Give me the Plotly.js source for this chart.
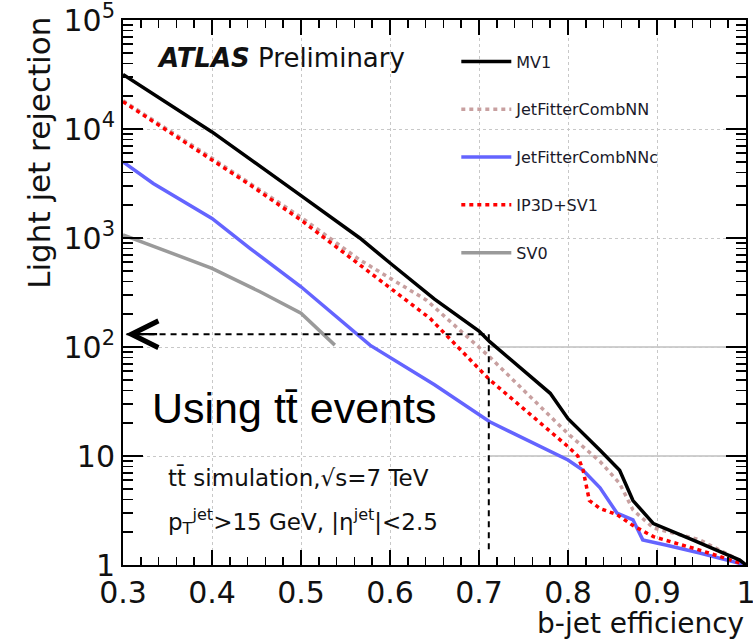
<!DOCTYPE html>
<html>
<head>
<meta charset="utf-8">
<script src="https://cdn.plot.ly/plotly-3.0.1.min.js"></script>
<style>html,body{margin:0;padding:0;background:#fff;}#chart{width:753px;height:640px;}</style>
</head>
<body>
<div id="chart"></div>
<script>
// ---- data ----
const seriesNames = ["MV1", "JetFitterCombNN", "JetFitterCombNNc", "IP3D+SV1", "SV0"];

const mv1X = [0.30, 0.40, 0.50, 0.566, 0.60, 0.65, 0.70, 0.712, 0.78, 0.80, 0.836, 0.858, 0.873, 0.896, 0.94, 0.993, 1.0];
const mv1Y = [31600, 9400, 2450, 1000, 590, 275, 140, 112, 37.6, 22, 11.3, 7.4, 3.9, 2.4, 1.7, 1.11, 1.0];

const nnX = [0.30, 0.40, 0.50, 0.566, 0.641, 0.712, 0.80, 0.836, 0.858, 0.873, 0.896, 0.948, 0.985, 1.0];
const nnY = [18200, 5400, 1550, 630, 269, 81, 16, 8.9, 5.6, 3.2, 2.19, 1.7, 1.19, 1.0];

const nncX = [0.30, 0.334, 0.40, 0.443, 0.50, 0.555, 0.5775, 0.65, 0.712, 0.80, 0.817, 0.836, 0.855, 0.873, 0.884, 0.911, 0.948, 1.0];
const nncY = [5000, 3160, 1510, 800, 357, 148, 104, 45, 20.6, 9.2, 7.4, 5.1, 3.0, 2.6, 1.7, 1.52, 1.29, 1.0];

const ipX = [0.30, 0.40, 0.443, 0.50, 0.566, 0.645, 0.712, 0.757, 0.80, 0.811, 0.817, 0.824, 0.836, 0.855, 0.873, 0.896, 0.948, 1.0];
const ipY = [17800, 5200, 3060, 1460, 565, 183, 50, 24.5, 12.2, 10, 7.4, 3.9, 3.3, 2.9, 2.3, 1.82, 1.37, 1.0];

const sv0X = [0.30, 0.35, 0.40, 0.454, 0.50, 0.538];
const sv0Y = [1070, 748, 527, 321, 204, 104];

const xTickVals = [0.3, 0.4, 0.5, 0.6, 0.7, 0.8, 0.9, 1.0];
const xTickText = ["0.3", "0.4", "0.5", "0.6", "0.7", "0.8", "0.9", "1"];
const yTickVals = [1, 10, 100, 1000, 10000, 100000];
const yTickText = ["1", "10", "10<sup>2</sup>", "10<sup>3</sup>", "10<sup>4</sup>", "10<sup>5</sup>"];

// working point marked by the dashed lines
const wpEff = 0.711;
const wpRej = 131;
const wpLow = 1.37;

const FONT = "DejaVu Sans, Liberation Sans, Arial, sans-serif";
const FONT2 = "Liberation Sans, Arial, Helvetica, sans-serif";

const mk = (x, y, name, color, dash, g, rank) => ({
  x: x, y: y, name: name, type: "scatter", mode: "lines",
  line: {color: color, width: 3.5, dash: dash},
  legendgroup: g, legendrank: rank, showlegend: true
});

const traces = [
  mk(sv0X, sv0Y, seriesNames[4], "#9a9a9a", "solid", "g5", 5),
  mk(nncX, nncY, seriesNames[2], "#6464ff", "solid", "g3", 3),
  mk(nnX, nnY, seriesNames[1], "#c8a0a0", "4px,4px", "g2", 2),
  mk(ipX, ipY, seriesNames[3], "#ff0000", "4px,4px", "g4", 4),
  mk(mv1X, mv1Y, seriesNames[0], "#000000", "solid", "g1", 1)
];

const layout = {
  width: 753, height: 640,
  margin: {l: 123, r: 7, t: 20, b: 75},
  paper_bgcolor: "#fff", plot_bgcolor: "#fff",
  font: {family: FONT, color: "#000"},
  showlegend: true,
  legend: {
    x: 0.535, y: 0.955, xanchor: "left", yanchor: "top",
    bgcolor: "rgba(0,0,0,0)", borderwidth: 0,
    font: {family: FONT, size: 16, color: "#1a1a2a"},
    traceorder: "grouped", tracegroupgap: 24, itemwidth: 50
  },
  xaxis: {
    range: [0.3, 1.0], tickvals: xTickVals, ticktext: xTickText,
    ticks: "inside", ticklen: 15, tickwidth: 1.5, tickcolor: "#000",
    minor: {dtick: 0.02, ticks: "inside", ticklen: 8, tickcolor: "#000", tickwidth: 1.5, showgrid: false},
    showline: true, linecolor: "#000", linewidth: 2, mirror: "allticks",
    showgrid: true, gridcolor: "#c8c8c8", griddash: "dot", gridwidth: 1,
    tickfont: {family: FONT, size: 30, color: "#111"},
    ticklabeloverflow: "allow",
    zeroline: false
  },
  yaxis: {
    type: "log", range: [0, 5], tickvals: yTickVals, ticktext: yTickText,
    ticks: "inside", ticklen: 20, tickwidth: 1.5, tickcolor: "#000",
    minor: {dtick: "D1", ticks: "inside", ticklen: 10, tickcolor: "#000", tickwidth: 1.5, showgrid: false},
    showline: true, linecolor: "#000", linewidth: 2, mirror: "allticks",
    showgrid: true, gridcolor: "#c8c8c8", griddash: "dot", gridwidth: 1,
    tickfont: {family: FONT, size: 30, color: "#111"},
    ticklabeloverflow: "allow",
    zeroline: false
  },
  shapes: [
    {type: "line", xref: "x", yref: "y", x0: wpEff, x1: 1.0, y0: 100, y1: 100, layer: "below", line: {color: "#cfcfcf", width: 2}},
    {type: "line", xref: "x", yref: "y", x0: wpEff, x1: 1.0, y0: 10, y1: 10, layer: "below", line: {color: "#cfcfcf", width: 2}},
    {type: "line", xref: "x", yref: "y", x0: 0.304, x1: wpEff, y0: wpRej, y1: wpRej, line: {color: "#000", width: 2, dash: "6px,5px"}},
    {type: "line", xref: "x", yref: "y", x0: wpEff, x1: wpEff, y0: wpRej, y1: wpLow, line: {color: "#000", width: 2, dash: "6px,5px"}}
  ],
  annotations: [
    {x: 0.303, y: Math.log10(wpRej), xref: "x", yref: "y", ax: 0.34, ay: Math.log10(wpRej), axref: "x", ayref: "y",
     text: "", showarrow: true, arrowhead: 5, arrowsize: 2.4, arrowwidth: 2.2, arrowcolor: "#000"},
    {x: 0.051, y: 0.930, xref: "paper", yref: "paper", xanchor: "left", yanchor: "middle", showarrow: false,
     text: "<b><i>ATLAS</i></b> Preliminary", font: {family: FONT, size: 26, color: "#111"}},
    {x: 0.043, y: 0.288, xref: "paper", yref: "paper", xanchor: "left", yanchor: "middle", showarrow: false,
     text: "Using tt\u0304 events", font: {family: FONT2, size: 43, color: "#000"}},
    {x: 0.069, y: 0.160, xref: "paper", yref: "paper", xanchor: "left", yanchor: "middle", showarrow: false,
     text: "tt\u0304 simulation,\u221As=7 TeV", font: {family: FONT, size: 23, color: "#111"}},
    {x: 0.069, y: 0.079, xref: "paper", yref: "paper", xanchor: "left", yanchor: "middle", showarrow: false,
     text: "p<sub>T</sub><sup>jet</sup>>15 GeV, |\u03B7<sup>jet</sup>|&lt;2.5", font: {family: FONT, size: 23, color: "#111"}},
    {x: 1.0, y: -0.108, xref: "paper", yref: "paper", xanchor: "right", yanchor: "middle", showarrow: false,
     text: "b-jet efficiency", font: {family: FONT, size: 28, color: "#111"}},
    {x: -0.136, y: 1.01, xref: "paper", yref: "paper", xanchor: "center", yanchor: "top", showarrow: false, textangle: -90,
     text: "Light jet rejection", font: {family: FONT, size: 31, color: "#111"}}
  ]
};

Plotly.newPlot("chart", traces, layout, {displayModeBar: false, staticPlot: true});
</script>
</body>
</html>
